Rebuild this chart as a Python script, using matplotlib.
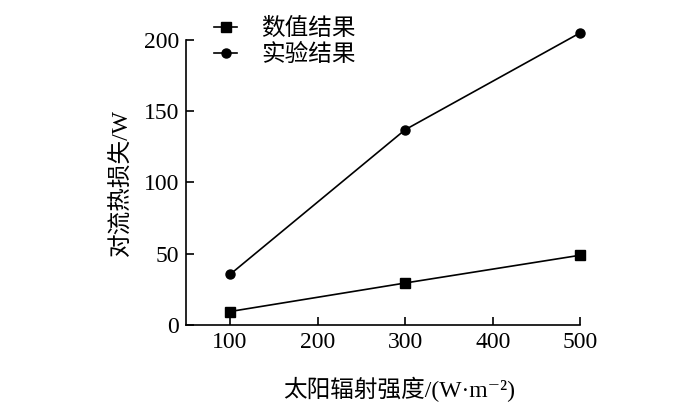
import matplotlib
matplotlib.use("Agg")
import matplotlib.pyplot as plt

plt.rcParams['font.family'] = ['Liberation Serif', 'Noto Sans CJK SC', 'DejaVu Serif']

# 数据
radiation = [100, 300, 500]
numerical = [9.5, 29.5, 49]
experiment = [35.5, 137, 205]

fig = plt.figure(figsize=(7, 4.2), dpi=100)
ax = fig.add_axes([0.266, 0.226, 0.563, 0.679])

ax.plot(radiation, numerical, color='black', lw=1.2, marker='s', ms=7,
        label='数值结果', clip_on=False)
ax.plot(radiation, experiment, color='black', lw=1.2, marker='o', ms=6.5,
        label='实验结果', clip_on=False)

ax.set_xlim(50, 500)
ax.set_ylim(0, 200)
ax.set_xticks([100, 200, 300, 400, 500])
ax.set_yticks([0, 50, 100, 150, 200])
ax.spines['top'].set_visible(False)
ax.spines['right'].set_visible(False)
for s in ('left', 'bottom'):
    ax.spines[s].set_linewidth(1.2)
ax.tick_params(direction='in', length=6, width=1.2, labelsize=17, pad=5)

ax.set_xlabel('太阳辐射强度/(W·m⁻²)', fontsize=17)
ax.xaxis.set_label_coords(0.54, -0.18)
ax.set_ylabel('对流热损失/W', fontsize=17, labelpad=8)

leg = ax.legend(loc='upper left', bbox_to_anchor=(0.046, 1.11), frameon=False,
                fontsize=17, handlelength=1.0, handletextpad=1.0,
                labelspacing=0.17, borderaxespad=0)

fig.savefig('out.png', dpi=100)
